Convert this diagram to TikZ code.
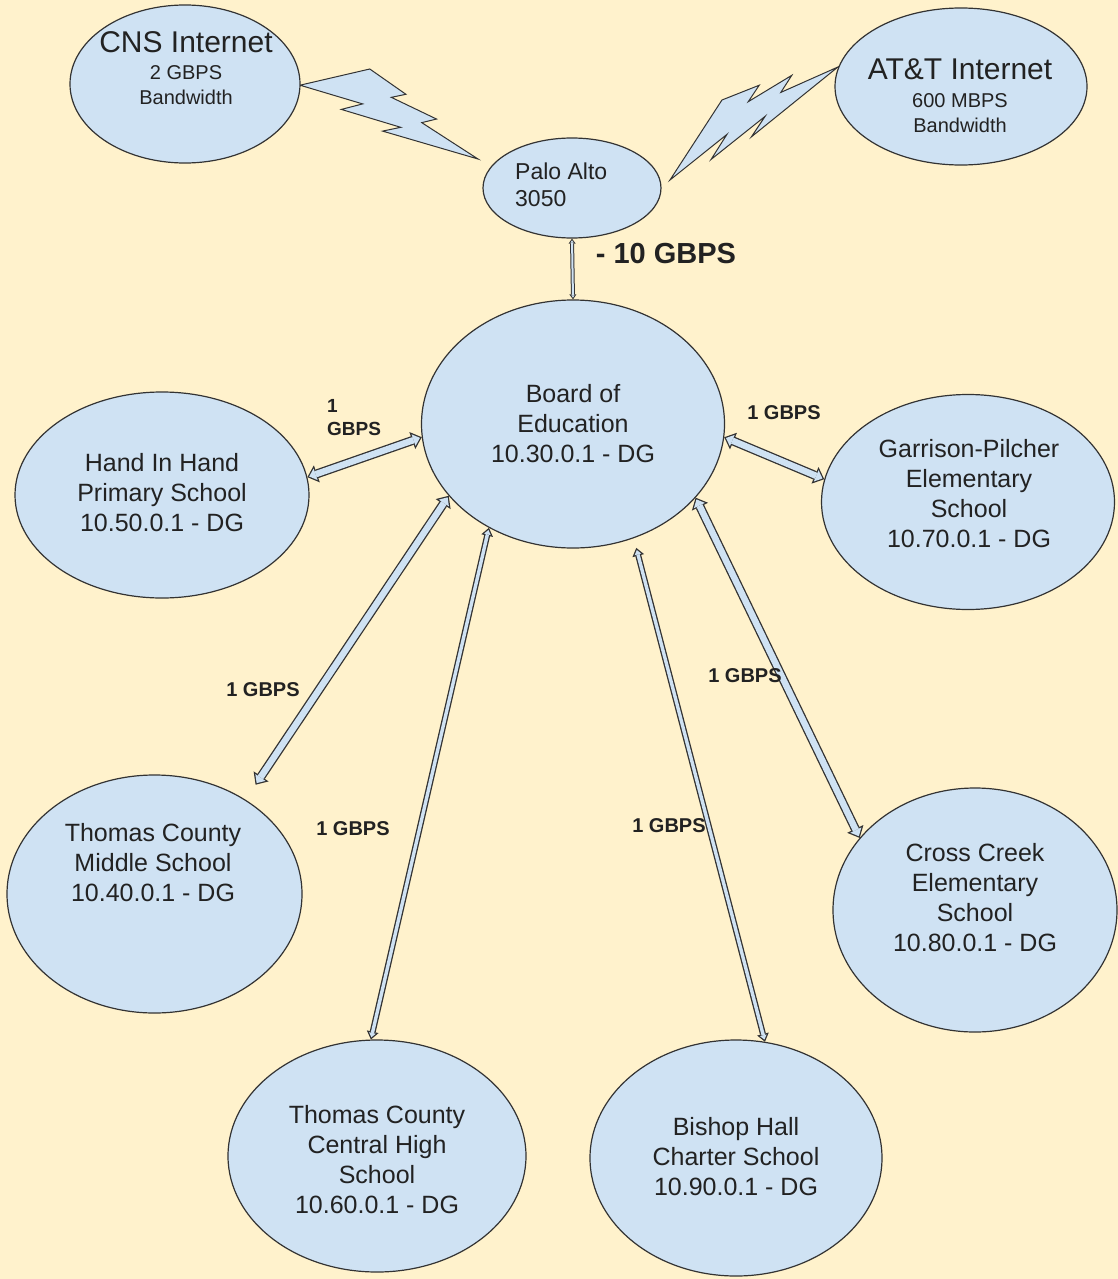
\documentclass[tikz,border=0pt]{standalone}
\usepackage{fontspec}
\setmainfont{Liberation Sans}
\usetikzlibrary{shapes.geometric,arrows.meta,calc}

\definecolor{bgcol}{HTML}{FFF2CC}
\definecolor{boxblue}{HTML}{CFE2F3}
\definecolor{edgecol}{HTML}{333333}
\definecolor{txtcol}{HTML}{222222}

\tikzset{
site/.style={
  ellipse, draw=edgecol, line width=1.2pt,
  fill=boxblue, inner sep=0pt
  },
sitetext/.style={
  align=center, text=txtcol, inner sep=0pt,
  font=\fontsize{25}{30}\selectfont
  },
rate/.style={
  text=txtcol, inner sep=0pt,
  font=\bfseries\fontsize{20}{23}\selectfont
  },
bolt/.style={draw=edgecol, line width=1pt, fill=boxblue, line join=miter},
wide out/.style={draw=edgecol, line width=9pt,
  {Triangle[width=18pt,length=10pt,line width=0pt]}-{Triangle[width=18pt,length=10pt,line width=0pt]}},
wide in/.style={draw=boxblue, line width=6.4pt, shorten <=1.9pt, shorten >=1.9pt,
  {Triangle[width=12.2pt,length=6.8pt,line width=0pt]}-{Triangle[width=12.2pt,length=6.8pt,line width=0pt]}},
slim out/.style={draw=edgecol, line width=6pt,
  {Triangle[width=12pt,length=8pt,line width=0pt]}-{Triangle[width=12pt,length=8pt,line width=0pt]}},
slim in/.style={draw=boxblue, line width=3.4pt, shorten <=2.2pt, shorten >=2.2pt,
  {Triangle[width=6.8pt,length=4.5pt,line width=0pt]}-{Triangle[width=6.8pt,length=4.5pt,line width=0pt]}},
thin out/.style={draw=edgecol, line width=4pt,
  {Triangle[width=7pt,length=5pt,line width=0pt]}-{Triangle[width=7pt,length=5pt,line width=0pt]}},
thin in/.style={draw=boxblue, line width=2pt, shorten <=1.7pt, shorten >=1.7pt,
  {Triangle[width=3.2pt,length=2.3pt,line width=0pt]}-{Triangle[width=3.2pt,length=2.3pt,line width=0pt]}}
}

% lightning bolt in a unit box
\newcommand{\boltshape}{(0.392,0) -- (0.595,0.281) -- (0.513,0.315) -- (0.767,0.556)
  -- (0.684,0.596) -- (1,1) -- (0.464,0.690) -- (0.566,0.648) -- (0.232,0.449)
  -- (0.352,0.388) -- (0,0.180) -- cycle}

% block arrow between two points
\newcommand{\gbpslink}[3]{%
  \draw[#1 out] #2 -- #3;
  \draw[#1 in] #2 -- #3;
}

\begin{document}
\begin{tikzpicture}[x=1pt,y=-1pt]
\useasboundingbox (0,0) rectangle (1118,1279);
\fill[bgcol] (0,0) rectangle (1118,1279);

% wireless uplinks
\draw[bolt, shift={(300pt,-69pt)}, x={(178pt,0pt)}, y={(0pt,-90pt)}] \boltshape;
\draw[bolt, shift={(665pt,-167.2pt)}, x={(145.3pt,171.4pt)}, y={(27.6pt,-71.2pt)}] \boltshape;

% providers
\node[site, minimum width=230pt, minimum height=158pt] (cns) at (185,84) {};
\node[sitetext, font=\fontsize{20}{25}\selectfont] (cns-txt) at (186,68)
  {{\fontsize{30}{30}\selectfont CNS Internet}\\[2pt] 2 GBPS\\ Bandwidth};

\node[site, minimum width=252pt, minimum height=157pt] (att) at (961,86.5) {};
\node[sitetext, font=\fontsize{20}{25}\selectfont] (att-txt) at (960,96)
  {{\fontsize{30}{30}\selectfont AT\&T Internet}\\[3pt] 600 MBPS\\ Bandwidth};

\node[site, minimum width=178pt, minimum height=100pt] (palo) at (572,188) {};
\node[sitetext, align=left, anchor=west, font=\fontsize{23}{27}\selectfont]
  (palo-txt) at (515,185) {Palo Alto\\3050};

% board
\node[site, minimum width=303pt, minimum height=248pt] (board) at (573,424) {};
\node[sitetext] (board-txt) at (573,424) {Board of\\Education\\10.30.0.1 - DG};

% schools
\node[site, minimum width=294pt, minimum height=206pt] (hand) at (162,495) {};
\node[sitetext] (hand-txt) at (162,493) {Hand In Hand\\Primary School\\10.50.0.1 - DG};

\node[site, minimum width=293pt, minimum height=215pt] (garr) at (968,502) {};
\node[sitetext] (garr-txt) at (969,494) {Garrison-Pilcher\\Elementary\\School\\10.70.0.1 - DG};

\node[site, minimum width=295pt, minimum height=238pt] (middle) at (154.5,894) {};
\node[sitetext] (middle-txt) at (153,863) {Thomas County\\Middle School\\10.40.0.1 - DG};

\node[site, minimum width=284pt, minimum height=244pt] (cross) at (975,910) {};
\node[sitetext] (cross-txt) at (975,898) {Cross Creek\\Elementary\\School\\10.80.0.1 - DG};

\node[site, minimum width=298pt, minimum height=232pt] (central) at (377,1156) {};
\node[sitetext] (central-txt) at (377,1160) {Thomas County\\Central High\\School\\10.60.0.1 - DG};

\node[site, minimum width=292pt, minimum height=236pt] (bishop) at (736,1158) {};
\node[sitetext] (bishop-txt) at (736,1157) {Bishop Hall\\Charter School\\10.90.0.1 - DG};

% links
\gbpslink{thin}{(palo.south)}{(board.north)}
\gbpslink{wide}{(board.185)}{(hand.7)}
\gbpslink{wide}{(board.355)}{(garr.171)}
\gbpslink{wide}{(board.210)}{($(middle.46)!18pt!(board.210)$)}
\gbpslink{slim}{(board.231)}{(central.93)}
\gbpslink{slim}{($(board.298)!10pt!(bishop.76)$)}{(bishop.76)}
\gbpslink{wide}{(board.329)}{(cross.148)}

% rates
\node[rate, font=\bfseries\fontsize{29}{32}\selectfont] (uplink) at (666,254) {- 10 GBPS};
\node[rate, align=left, anchor=north west, font=\bfseries\fontsize{19}{23}\selectfont]
  (rate-hand) at (327,399) {1\\GBPS};
\node[rate] (rate-garr) at (784,413) {1 GBPS};
\node[rate] (rate-middle) at (263,690) {1 GBPS};
\node[rate] (rate-central) at (353,829) {1 GBPS};
\node[rate] (rate-bishop) at (669,826) {1 GBPS};
\node[rate] (rate-cross) at (745,676) {1 GBPS};

\end{tikzpicture}
\end{document}
